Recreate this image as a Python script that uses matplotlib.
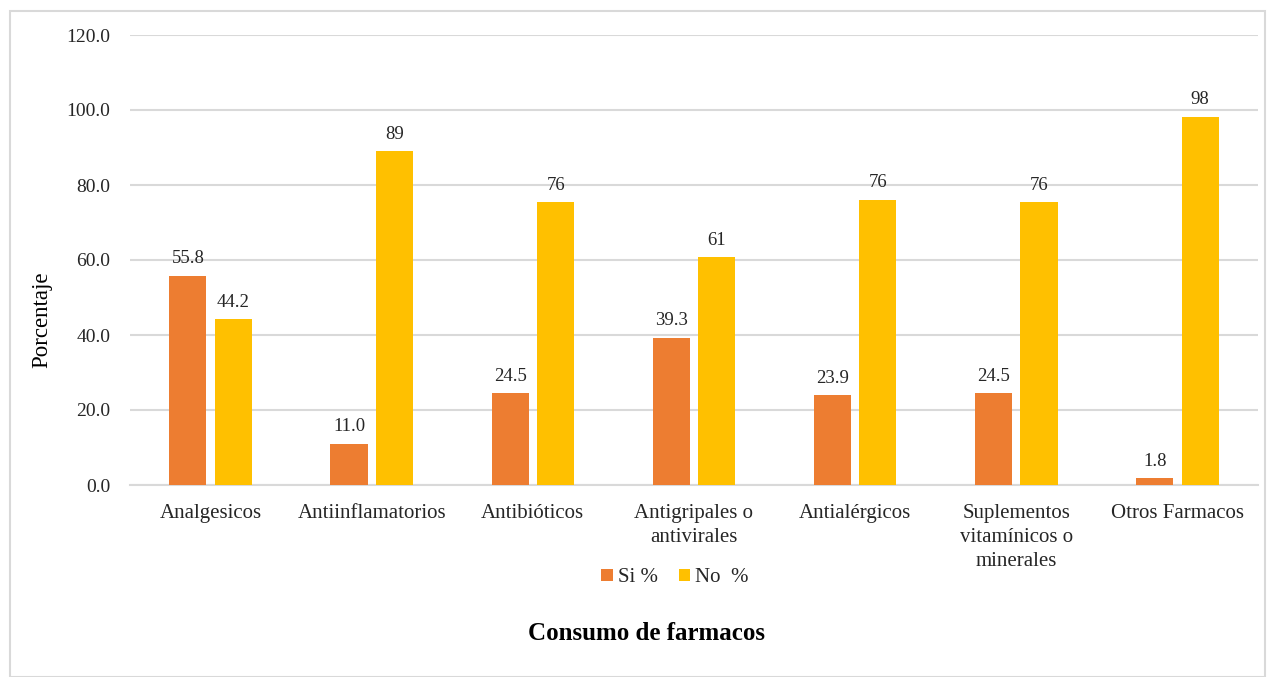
import matplotlib
matplotlib.use("Agg")
import matplotlib.pyplot as plt
import numpy as np
from matplotlib.patches import Rectangle

categories = ["Analgesicos", "Antiinflamatorios", "Antibióticos",
              "Antigripales o\nantivirales", "Antialérgicos",
              "Suplementos\nvitamínicos o\nminerales", "Otros Farmacos"]
si_values = [55.8, 11.0, 24.5, 39.3, 23.9, 24.5, 1.8]
no_values = [44.2, 89.0, 75.5, 60.7, 76.1, 75.5, 98.2]
si_labels = ["55.8", "11.0", "24.5", "39.3", "23.9", "24.5", "1.8"]
no_labels = ["44.2", "89", "76", "61", "76", "76", "98"]
y_ticks = [0, 20, 40, 60, 80, 100, 120]

plt.rcParams['font.family'] = ['Liberation Serif', 'DejaVu Serif']

fig = plt.figure(figsize=(12.7, 6.77), dpi=100)
ax = fig.add_axes([130/1270, 1-485/677, (1258-130)/1270, 450/677])

x = np.arange(len(categories))
w = 0.23
off = 0.141
orange = "#ED7D31"
yellow = "#FFC000"
b1 = ax.bar(x - off, si_values, w, color=orange, label="Si %", zorder=3)
b2 = ax.bar(x + off, no_values, w, color=yellow, label="No  %", zorder=3)

for rect, lab in zip(b1, si_labels):
    ax.annotate(lab, (rect.get_x() + rect.get_width()/2, rect.get_height()),
                xytext=(0, 6), textcoords="offset points", ha="center", va="bottom",
                fontsize=13.5, color="#262626")
for rect, lab in zip(b2, no_labels):
    ax.annotate(lab, (rect.get_x() + rect.get_width()/2, rect.get_height()),
                xytext=(0, 6), textcoords="offset points", ha="center", va="bottom",
                fontsize=13.5, color="#262626")

ax.set_xlim(-0.5, len(categories) - 0.5)
ax.set_ylim(0, 120)
ax.set_yticks(y_ticks)
ax.set_yticklabels([f"{v:.1f}" for v in y_ticks], fontsize=14, color="#262626")
ax.set_xticks(x)
ax.set_xticklabels(categories, fontsize=15, color="#262626", linespacing=1.35)
ax.tick_params(axis="both", length=0)
ax.tick_params(axis="y", pad=14)
ax.tick_params(axis="x", pad=14)
ax.yaxis.grid(True, color="#d9d9d9", linewidth=1.5, zorder=0)
ax.set_axisbelow(True)
for s in ["left", "right", "top"]:
    ax.spines[s].set_visible(False)
ax.spines["bottom"].set_color("#d9d9d9")
ax.spines["bottom"].set_linewidth(1.5)

fig.text(42/1270, 1-320/677, "Porcentaje", rotation=90, ha="center", va="center",
         fontsize=16.5, color="#000000")
fig.text(646/1270, 1-634/677, "Consumo de farmacos", ha="center", va="center",
         fontsize=18, fontweight="bold")

leg = fig.legend(loc="center", bbox_to_anchor=(675/1270, 1-578/677), ncol=2,
                 frameon=False, fontsize=15, handlelength=0.55, handleheight=0.55,
                 handletextpad=0.25, columnspacing=1.0)
for t in leg.get_texts():
    t.set_color("#262626")

fig.patches.append(Rectangle((10/1270, 0), 1255/1270, 1-11/677, transform=fig.transFigure,
                             fill=False, edgecolor="#d9d9d9", linewidth=1.5))

fig.savefig("out.png", dpi=100)
